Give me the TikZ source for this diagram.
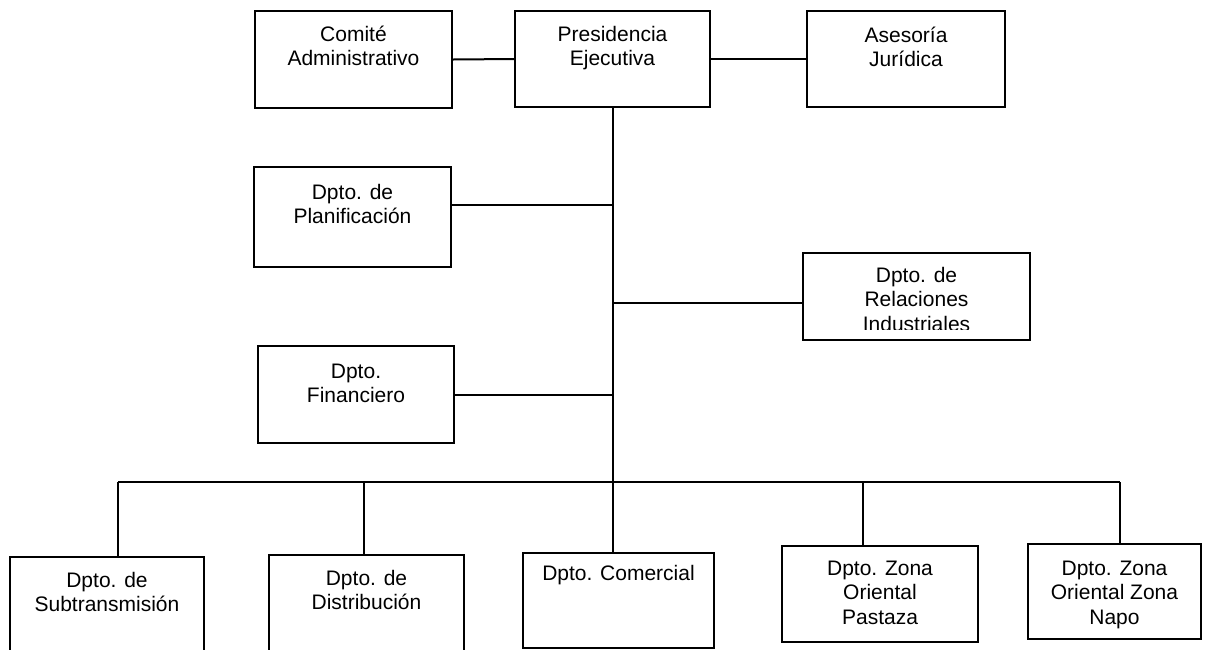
\documentclass[tikz,border=0pt]{standalone}
\usepackage{fontspec}
\setmainfont{Liberation Sans}
\begin{document}
\begin{tikzpicture}[x=1pt,y=-1pt,
  box/.style={draw, line width=2pt, inner sep=0pt, anchor=north west},
  lbl/.style={font=\fontsize{21}{24.5}\selectfont, align=center, inner sep=0pt, anchor=north},
  conn/.style={line width=2pt}]
\fill[white] (0,0) rectangle (1221,649);
\clip (0,0) rectangle (1221,649);
% boxes
\node[box, minimum width=197pt, minimum height=97pt] (com) at (254,10) {};
\node[box, minimum width=195pt, minimum height=96pt] (pres) at (514,10) {};
\node[box, minimum width=198pt, minimum height=96pt] (ase) at (806,10) {};
\node[box, minimum width=197pt, minimum height=100pt] (plan) at (253,166) {};
\node[box, minimum width=227pt, minimum height=87pt] (rel) at (802,252) {};
\node[box, minimum width=196pt, minimum height=97pt] (fin) at (257,345) {};
\node[box, minimum width=194pt, minimum height=110pt] (sub) at (9,556) {};
\node[box, minimum width=195pt, minimum height=110pt] (dis) at (268,554) {};
\node[box, minimum width=191pt, minimum height=95pt] (cmr) at (522,552) {};
\node[box, minimum width=196pt, minimum height=96pt] (pas) at (781,545) {};
\node[box, minimum width=173pt, minimum height=95pt] (nap) at (1027,543) {};
% labels
\node[lbl] (comt) at ([yshift=-11pt]com.north) {\rule{0pt}{20pt}Comité\\Administrativo};
\node[lbl] (prest) at ([yshift=-11pt]pres.north) {\rule{0pt}{20pt}Presidencia\\Ejecutiva};
\node[lbl] (aset) at ([yshift=-12pt]ase.north) {\rule{0pt}{20pt}Asesoría\\Jurídica};
\node[lbl] (plant) at ([yshift=-13pt]plan.north) {\rule{0pt}{20pt}Dpto. de\\Planificación};
\begin{scope}
\clip (rel.north west) rectangle ([yshift=12pt]rel.south east);
\node[lbl] (relt) at ([yshift=-10pt]rel.north) {\rule{0pt}{20pt}Dpto. de\\Relaciones\\Industriales};
\end{scope}
\node[lbl] (fint) at ([yshift=-13pt]fin.north) {\rule{0pt}{20pt}Dpto.\\Financiero};
\node[lbl] (subt) at ([yshift=-11pt]sub.north) {\rule{0pt}{20pt}Dpto. de\\Subtransmisión};
\node[lbl] (dist) at ([yshift=-11pt]dis.north) {\rule{0pt}{20pt}Dpto. de\\Distribución};
\node[lbl] (cmrt) at ([yshift=-8pt]cmr.north) {\rule{0pt}{20pt}Dpto. Comercial};
\node[lbl] (past) at ([yshift=-10pt]pas.north) {\rule{0pt}{20pt}Dpto. Zona\\Oriental\\Pastaza};
\node[lbl] (napt) at ([yshift=-12pt]nap.north) {\rule{0pt}{20pt}Dpto. Zona\\Oriental Zona\\Napo};
% connectors
\draw[conn] (com.east) -- (pres.west);
\draw[conn] (pres.east) -- (ase.west);
\draw[conn] (pres.south) -- (pres.south |- cmr.north);
\draw[conn] ([yshift=12pt]plan.east) -- ([yshift=12pt]plan.east -| pres.south);
\draw[conn] ([yshift=-6pt]rel.west) -- ([yshift=-6pt]rel.west -| pres.south);
\draw[conn] (fin.east) -- (fin.east -| pres.south);
\coordinate (b1) at (118,482);
\coordinate (b2) at (364,482);
\coordinate (b4) at (863,482);
\coordinate (b5) at (1120,482);
\draw[conn] (b1) -- (b5);
\draw[conn] (b1) -- (b1 |- sub.north);
\draw[conn] (b2) -- (b2 |- dis.north);
\draw[conn] (b4) -- (b4 |- pas.north);
\draw[conn] (b5) -- (b5 |- nap.north);
\end{tikzpicture}
\end{document}
